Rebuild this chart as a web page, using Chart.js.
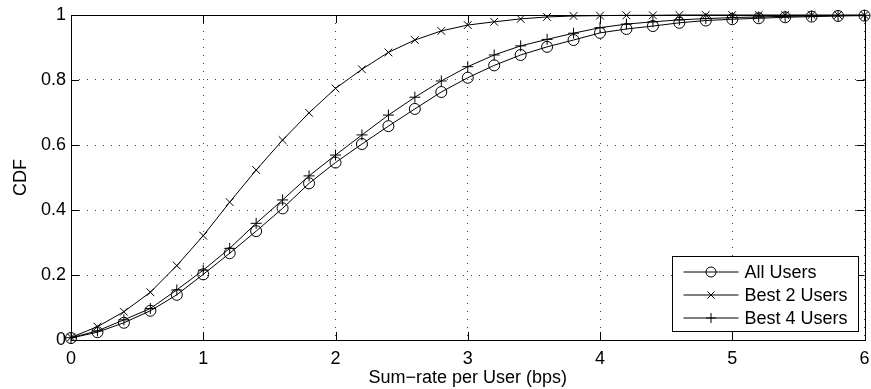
<!DOCTYPE html>
<html>
<head>
<meta charset="utf-8">
<script src="https://cdn.jsdelivr.net/npm/chart.js@4/dist/chart.umd.min.js"></script>
<style>
  html, body { margin: 0; padding: 0; background: #fff; }
  #wrap { width: 871px; height: 389px; }
</style>
</head>
<body>
<div id="wrap"><canvas id="cdfChart" width="871" height="389"></canvas></div>
<script>
// sum-rate per user (bps), one sample every 0.2
let rates = [0, 0.2, 0.4, 0.6, 0.8, 1.0, 1.2, 1.4, 1.6, 1.8, 2.0, 2.2, 2.4, 2.6, 2.8, 3.0,
             3.2, 3.4, 3.6, 3.8, 4.0, 4.2, 4.4, 4.6, 4.8, 5.0, 5.2, 5.4, 5.6, 5.8, 6.0];

let allUsers = [0.006, 0.024, 0.053, 0.090, 0.139, 0.202, 0.267, 0.335, 0.405, 0.482, 0.546,
                0.603, 0.658, 0.711, 0.763, 0.807, 0.845, 0.877, 0.902, 0.923, 0.945,
                0.957, 0.966, 0.976, 0.983, 0.987, 0.990, 0.993, 0.995, 0.997, 0.998];

let best2Users = [0.008, 0.041, 0.087, 0.147, 0.229, 0.321, 0.424, 0.523, 0.615, 0.699, 0.774,
                  0.833, 0.885, 0.923, 0.951, 0.969, 0.979, 0.988, 0.994, 0.997, 0.998,
                  0.999, 0.999, 1.0, 1.0, 1.0, 1.0, 1.0, 1.0, 1.0, 1.0];

let best4Users = [0.007, 0.028, 0.062, 0.097, 0.154, 0.215, 0.282, 0.359, 0.431, 0.505, 0.569,
                  0.631, 0.692, 0.747, 0.797, 0.841, 0.877, 0.905, 0.925, 0.944, 0.961,
                  0.972, 0.979, 0.985, 0.989, 0.992, 0.994, 0.996, 0.997, 0.998, 0.999];

let xTicks = [0, 1, 2, 3, 4, 5, 6];
let yTicks = [0, 0.2, 0.4, 0.6, 0.8, 1];

let seriesLabels = ["All Users", "Best 2 Users", "Best 4 Users"];
let markerStyles = ["circle", "crossRot", "cross"];

const FONT = "Liberation Sans, Arial, Helvetica, sans-serif";
const FONT_SIZE = 18;

function toPoints(values) {
    return values.map((v, i) => ({ x: rates[i], y: v }));
}

function makeDataset(label, values, style) {
    return {
        label: label,
        data: toPoints(values),
        borderColor: "#000",
        borderWidth: 1,
        backgroundColor: "rgba(0,0,0,0)",
        pointStyle: style,
        pointRadius: 5.5,
        pointBorderColor: "#000",
        pointBackgroundColor: "rgba(0,0,0,0)",
        pointBorderWidth: 1,
        tension: 0,
        fill: false,
        clip: false
    };
}

// box round the plot plus the inward tick marks
let framePlugin = {
    id: "frame",
    afterDraw(chart) {
        let ctx = chart.ctx;
        let a = chart.chartArea;
        let xs = chart.scales.x, ys = chart.scales.y;
        ctx.save();
        ctx.strokeStyle = "#000";
        ctx.lineWidth = 1;
        ctx.strokeRect(Math.round(a.left) + 0.5, Math.round(a.top) + 0.5,
                       Math.round(a.right - a.left), Math.round(a.bottom - a.top));
        ctx.beginPath();
        xTicks.forEach(t => {
            let px = Math.round(xs.getPixelForValue(t)) + 0.5;
            ctx.moveTo(px, a.bottom); ctx.lineTo(px, a.bottom - 8);
            ctx.moveTo(px, a.top); ctx.lineTo(px, a.top + 8);
        });
        yTicks.forEach(t => {
            let py = Math.round(ys.getPixelForValue(t)) + 0.5;
            ctx.moveTo(a.left, py); ctx.lineTo(a.left + 8, py);
            ctx.moveTo(a.right, py); ctx.lineTo(a.right - 8, py);
        });
        ctx.stroke();
        ctx.restore();
    }
};

// matlab style legend in the lower right corner
let legendBoxPlugin = {
    id: "legendBox",
    afterDraw(chart) {
        let ctx = chart.ctx;
        let a = chart.chartArea;
        let boxW = 186, boxH = 75;
        let bx = Math.round(a.right - 7 - boxW) + 0.5;
        let by = Math.round(a.bottom - 9 - boxH) + 0.5;
        ctx.save();
        ctx.fillStyle = "#fff";
        ctx.fillRect(bx, by, boxW, boxH);
        ctx.strokeStyle = "#000";
        ctx.lineWidth = 1;
        ctx.strokeRect(bx, by, boxW, boxH);
        ctx.font = FONT_SIZE + "px " + FONT;
        ctx.textBaseline = "middle";
        chart.data.datasets.forEach((ds, i) => {
            let y = by + 15.5 + i * 23;
            ctx.beginPath();
            ctx.moveTo(bx + 11, y);
            ctx.lineTo(bx + 66, y);
            ctx.stroke();
            ctx.fillStyle = "rgba(0,0,0,0)";
            Chart.helpers.drawPoint(ctx, {
                pointStyle: ds.pointStyle,
                radius: 5,
                borderWidth: 1
            }, bx + 38.5, y);
            ctx.fillStyle = "#000";
            ctx.fillText(ds.label, bx + 72, y + 1);
        });
        ctx.restore();
    }
};

let ctx = document.getElementById("cdfChart").getContext("2d");

new Chart(ctx, {
    type: "line",
    data: {
        datasets: [
            makeDataset(seriesLabels[0], allUsers, markerStyles[0]),
            makeDataset(seriesLabels[1], best2Users, markerStyles[1]),
            makeDataset(seriesLabels[2], best4Users, markerStyles[2])
        ]
    },
    options: {
        responsive: false,
        animation: false,
        events: [],
        layout: { padding: { left: 0, right: 4, top: 15, bottom: 0 } },
        plugins: {
            legend: { display: false },
            tooltip: { enabled: false }
        },
        scales: {
            x: {
                type: "linear",
                min: 0,
                max: 6,
                afterBuildTicks: (scale) => { scale.ticks = xTicks.map(v => ({ value: v })); },
                afterFit: (scale) => {
                    scale.height = 49;
                    scale.paddingLeft = 0;
                    scale.paddingRight = 0;
                },
                grid: { color: "#444", lineWidth: 1, drawTicks: false },
                border: { display: false, dash: [1, 7] },
                ticks: {
                    color: "#000",
                    padding: 8,
                    maxRotation: 0,
                    font: { family: FONT, size: FONT_SIZE },
                    callback: (v) => String(v)
                },
                title: {
                    display: true,
                    text: "Sum\u2212rate per User (bps)",
                    color: "#000",
                    font: { family: FONT, size: FONT_SIZE },
                    padding: { top: 0, bottom: 0 }
                }
            },
            y: {
                type: "linear",
                min: 0,
                max: 1,
                afterBuildTicks: (scale) => { scale.ticks = yTicks.map(v => ({ value: v })); },
                afterFit: (scale) => {
                    scale.width = 71;
                    scale.paddingTop = 0;
                    scale.paddingBottom = 0;
                },
                grid: { color: "#444", lineWidth: 1, drawTicks: false },
                border: { display: false, dash: [1, 7] },
                ticks: {
                    color: "#000",
                    padding: 5,
                    font: { family: FONT, size: FONT_SIZE },
                    callback: (v) => String(v)
                },
                title: {
                    display: true,
                    text: "CDF",
                    color: "#000",
                    font: { family: FONT, size: FONT_SIZE },
                    padding: { top: 10, bottom: 0 }
                }
            }
        }
    },
    plugins: [framePlugin, legendBoxPlugin]
});
</script>
</body>
</html>
